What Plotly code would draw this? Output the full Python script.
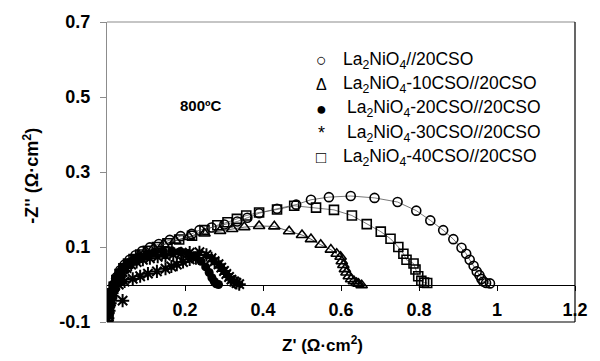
import plotly.graph_objects as go

# ---- data ----
c1_x = [0.004,0.006,0.009,0.013,0.018,0.025,0.034,0.045,0.058,0.073,0.090,0.110,0.133,0.161,0.189,0.217,0.237,0.268,0.301,0.334,0.360,0.390,0.436,0.485,0.523,0.569,0.625,0.686,0.745,0.793,0.829,0.862,0.888,0.909,0.921,0.930,0.940,0.948,0.955,0.960,0.965,0.972,0.982]
c1_y = [-0.085,-0.060,-0.040,-0.020,0.000,0.020,0.038,0.053,0.066,0.078,0.089,0.099,0.108,0.119,0.129,0.135,0.145,0.152,0.160,0.168,0.178,0.190,0.202,0.213,0.226,0.233,0.236,0.231,0.220,0.197,0.171,0.145,0.121,0.098,0.082,0.066,0.050,0.035,0.025,0.015,0.008,0.004,0.003]

c2_x = [0.002,0.004,0.007,0.011,0.016,0.022,0.030,0.040,0.052,0.066,0.082,0.100,0.120,0.145,0.175,0.210,0.250,0.290,0.321,0.352,0.390,0.429,0.467,0.500,0.523,0.548,0.574,0.589,0.599,0.602,0.606,0.610,0.614,0.620,0.626,0.633,0.640,0.645,0.653]
c2_y = [-0.090,-0.070,-0.050,-0.030,-0.010,0.008,0.025,0.040,0.054,0.066,0.078,0.088,0.097,0.107,0.117,0.127,0.136,0.143,0.148,0.153,0.156,0.155,0.142,0.132,0.121,0.106,0.093,0.082,0.074,0.062,0.052,0.041,0.032,0.022,0.014,0.009,0.004,0.002,-0.002]

c3_x = [0.003,0.005,0.008,0.012,0.017,0.024,0.032,0.042,0.054,0.068,0.084,0.102,0.122,0.144,0.166,0.188,0.208,0.226,0.241,0.253,0.262,0.269,0.275,0.280,0.286]
c3_y = [-0.080,-0.060,-0.040,-0.020,0.000,0.018,0.033,0.046,0.057,0.066,0.074,0.081,0.086,0.089,0.090,0.088,0.083,0.074,0.062,0.047,0.032,0.018,0.008,0.002,0.000]

c4_x = [0.002,0.005,0.008,0.040,0.012,0.017,0.023,0.031,0.040,0.050,0.062,0.076,0.092,0.110,0.130,0.150,0.170,0.190,0.212,0.237,0.255,0.268,0.276,0.286,0.293,0.300,0.306,0.313,0.319,0.326,0.332,0.339,
        0.030,0.045,0.066,0.085,0.105,0.128,0.150,0.165,0.179,0.195,0.212,0.228]
c4_y = [-0.090,-0.070,-0.050,-0.043,-0.030,-0.012,0.005,0.020,0.033,0.044,0.053,0.060,0.066,0.070,0.074,0.077,0.080,0.083,0.085,0.086,0.079,0.070,0.062,0.054,0.045,0.036,0.028,0.020,0.013,0.008,0.004,0.001,
        0.000,0.008,0.015,0.022,0.029,0.035,0.042,0.048,0.053,0.060,0.067,0.070]

c5_x = [0.003,0.005,0.008,0.012,0.017,0.024,0.032,0.042,0.054,0.068,0.085,0.105,0.128,0.155,0.185,0.218,0.250,0.283,0.309,0.333,0.357,0.390,0.436,0.480,0.536,0.582,0.628,0.666,0.702,0.727,0.747,0.760,0.768,0.786,0.791,0.798,0.806,0.813,0.821]
c5_y = [-0.088,-0.065,-0.045,-0.025,-0.006,0.012,0.028,0.043,0.056,0.068,0.080,0.090,0.100,0.110,0.120,0.130,0.145,0.158,0.166,0.175,0.184,0.192,0.200,0.210,0.205,0.199,0.184,0.161,0.141,0.122,0.100,0.082,0.066,0.056,0.040,0.022,0.010,0.005,0.004]

legend_symbols = ["○", "Δ", "●", "*", "□"]
legend_labels = ["La<sub>2</sub>NiO<sub>4</sub>//20CSO",
                 "La<sub>2</sub>NiO<sub>4</sub>-10CSO//20CSO",
                 "La<sub>2</sub>NiO<sub>4</sub>-20CSO//20CSO",
                 "La<sub>2</sub>NiO<sub>4</sub>-30CSO//20CSO",
                 "La<sub>2</sub>NiO<sub>4</sub>-40CSO//20CSO"]

x_ticks = [0.2, 0.4, 0.6, 0.8, 1.0, 1.2]
x_ticktext = ["0.2", "0.4", "0.6", "0.8", "1", "1.2"]
y_ticks = [-0.1, 0.1, 0.3, 0.5, 0.7]
y_ticktext = ["-0.1", "0.1", "0.3", "0.5", "0.7"]

FONT = "Arial, Liberation Sans, sans-serif"
W, H = 600, 361
L, R, T, B = 107, 23, 15, 39

def px2paper(px, py):
    return (px - L) / (W - L - R), (H - B - py) / (H - T - B)

fig = go.Figure()
fig.add_trace(go.Scatter(x=c5_x, y=c5_y, mode="lines+markers",
                         line=dict(color="#555555", width=0.8),
                         marker=dict(symbol="square-open", size=9, color="black", line=dict(width=1.6, color="black"))))
fig.add_trace(go.Scatter(x=c1_x, y=c1_y, mode="lines+markers",
                         line=dict(color="#555555", width=0.8),
                         marker=dict(symbol="circle-open", size=9, color="black", line=dict(width=1.6, color="black"))))
fig.add_trace(go.Scatter(x=c2_x, y=c2_y, mode="lines+markers",
                         line=dict(color="#333333", width=0.8),
                         marker=dict(symbol="triangle-up-open", size=10, color="black", line=dict(width=1.6, color="black"))))
fig.add_trace(go.Scatter(x=c3_x, y=c3_y, mode="lines+markers",
                         line=dict(color="#333333", width=1),
                         marker=dict(symbol="circle", size=9, color="black")))
fig.add_trace(go.Scatter(x=c4_x, y=c4_y, mode="markers",
                         marker=dict(symbol="asterisk-open", size=11, color="black", line=dict(width=2, color="black"))))

# border lines
fig.add_shape(type="line", xref="paper", yref="paper", x0=0, x1=1, y0=1, y1=1, line=dict(color="#8c8c8c", width=1.2))
fig.add_shape(type="line", xref="paper", yref="paper", x0=1, x1=1, y0=0, y1=1, line=dict(color="black", width=1.2))
fig.add_shape(type="line", xref="paper", yref="paper", x0=0, x1=1, y0=0, y1=0, line=dict(color="black", width=1.2))

# legend as text
sym_size = {"○": 18, "Δ": 16, "●": 18, "*": 18, "□": 17}
for i, (s, t) in enumerate(zip(legend_symbols, legend_labels)):
    py = 54 + 25 * i
    sx, sy = px2paper(322, py)
    tx, ty = px2paper(342 if i not in (2, 3) else 346, py)
    fig.add_annotation(x=sx, y=sy, xref="paper", yref="paper", text=s, showarrow=False,
                       xanchor="center", yanchor="middle",
                       font=dict(family=FONT, size=sym_size[s], color="black"))
    fig.add_annotation(x=tx, y=ty, xref="paper", yref="paper", text=t, showarrow=False,
                       xanchor="left", yanchor="middle", font=dict(family=FONT, size=17.5, color="black"))

ax, ay = px2paper(201, 100)
fig.add_annotation(x=ax, y=ay, xref="paper", yref="paper", text="<b>800ºC</b>", showarrow=False,
                   xanchor="center", yanchor="middle", font=dict(family=FONT, size=15, color="black"))

# axis titles
tx, ty = px2paper(323, 345)
fig.add_annotation(x=tx, y=ty, xref="paper", yref="paper", text="<b>Z' (Ω·cm<sup>2</sup>)</b>", showarrow=False,
                   xanchor="center", yanchor="middle", font=dict(family=FONT, size=17, color="black"))
tx, ty = px2paper(31, 172)
fig.add_annotation(x=tx, y=ty, xref="paper", yref="paper", text="<b>-Z'' (Ω·cm<sup>2</sup>)</b>", showarrow=False,
                   textangle=-90, xanchor="center", yanchor="middle", font=dict(family=FONT, size=18, color="black"))

fig.update_layout(
    width=W, height=H, margin=dict(l=L, r=R, t=T, b=B),
    paper_bgcolor="white", plot_bgcolor="white", showlegend=False,
    font=dict(family=FONT, color="black"),
    xaxis=dict(range=[0, 1.2], anchor="free", position=0.125, showgrid=False, zeroline=False,
               showline=True, linecolor="black", linewidth=1.2,
               ticks="outside", ticklen=5, tickcolor="black", tickwidth=1,
               tickvals=x_ticks, ticktext=x_ticktext, ticklabelstandoff=4,
               tickfont=dict(family=FONT, size=18, color="black", weight="bold")),
    yaxis=dict(range=[-0.1, 0.7], showgrid=False, zeroline=False,
               showline=True, linecolor="#8c8c8c", linewidth=1.2,
               ticks="outside", ticklen=6, tickcolor="#8c8c8c", tickwidth=1,
               tickvals=y_ticks, ticktext=y_ticktext, ticklabelstandoff=6,
               tickfont=dict(family=FONT, size=18, color="black", weight="bold")),
)

fig.write_html("out.html")
